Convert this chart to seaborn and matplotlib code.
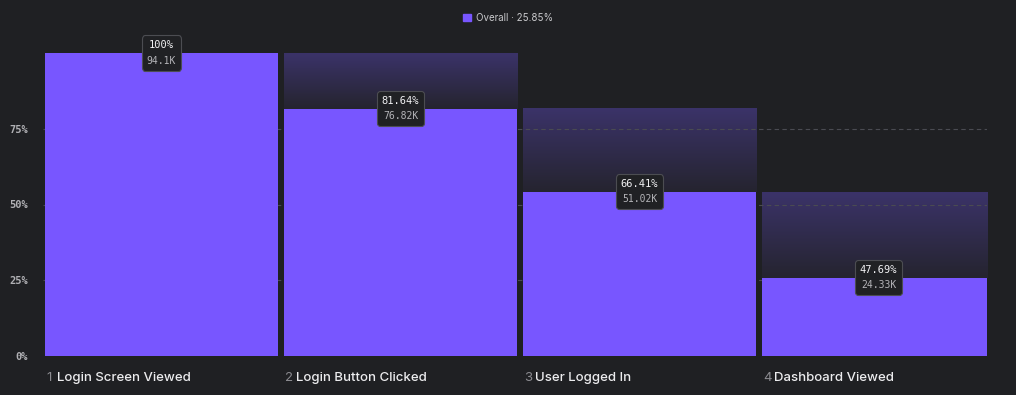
import numpy as np
import pandas as pd
import matplotlib.pyplot as plt
import seaborn as sns
from matplotlib.patches import Patch
from matplotlib.colors import LinearSegmentedColormap
from matplotlib.offsetbox import TextArea, VPacker, AnnotationBbox

# dados do funil
etapas = ['Login Screen Viewed', 'Login Button Clicked', 'User Logged In', 'Dashboard Viewed']
contagens = [94100, 76820, 51020, 24330]
rotulos_pct = ['100%', '81.64%', '66.41%', '47.69%']
rotulos_cont = ['94.1K', '76.82K', '51.02K', '24.33K']
rotulo_geral = 'Overall · 25.85%'
yticks = [0, 25, 50, 75]
ytick_labels = ['0%', '25%', '50%', '75%']

fundo = '#1f2023'
roxo = '#7856ff'

df = pd.DataFrame({'etapa': etapas, 'contagem': contagens})
df['geral'] = df['contagem'] / df['contagem'].iloc[0] * 100
df['anterior'] = df['geral'].shift(1)

sns.set_style('dark')
plt.rcParams['font.family'] = ['Inter', 'DejaVu Sans']

fig = plt.figure(figsize=(10.16, 3.95), dpi=100, facecolor=fundo)
ax = fig.add_axes([43 / 1016, 39 / 395, (987 - 43) / 1016, (356 - 53) / 395])
ax.set_facecolor(fundo)

largura = 0.975
sns.barplot(data=df, x='etapa', y='geral', width=largura, color=roxo,
            saturation=1, ax=ax, zorder=3, edgecolor='none', linewidth=0)

# barras "fantasma" com gradiente (altura da etapa anterior)
grad = np.linspace(1, 0, 256).reshape(-1, 1)
cmap_g = LinearSegmentedColormap.from_list('g', ['#25242f', '#3b3369'])
for i, row in df.iterrows():
    if pd.isna(row['anterior']):
        continue
    ax.imshow(grad, cmap=cmap_g, aspect='auto', zorder=1,
              extent=[i - largura / 2, i + largura / 2, row['geral'], row['anterior']])

ax.set_xlim(-0.496, 3.454)
ax.set_ylim(0, 100)

# grade
for yv in yticks[1:]:
    ax.axhline(yv, color='#4a4b52', lw=0.8, ls=(0, (4, 3)), zorder=2)

ax.set_yticks(yticks)
ax.set_yticklabels(ytick_labels, family='DejaVu Sans Mono', fontsize=7.5,
                   color='#b0b0b4', fontweight='bold')
ax.tick_params(axis='y', length=3, color='#55565c', pad=8)
ax.set_xticks([])
ax.set_xlabel('')
ax.set_ylabel('')
for s in ax.spines.values():
    s.set_visible(False)
ax.grid(False)

# rótulos das etapas
for i, nome in enumerate(etapas):
    x0 = i - largura / 2
    ax.annotate(str(i + 1), xy=(x0, 0), xycoords=('data', 'axes fraction'),
                xytext=(1, -16), textcoords='offset points', ha='left', va='center',
                fontsize=9.5, color='#8b8b90')
    ax.annotate(nome, xy=(x0, 0), xycoords=('data', 'axes fraction'),
                xytext=(8.5, -16), textcoords='offset points', ha='left', va='center',
                fontsize=9.5, color='#ececee', fontweight='medium')

# caixas de anotação
for i, row in df.iterrows():
    t1 = TextArea(rotulos_pct[i], textprops=dict(family='DejaVu Sans Mono',
                                                 fontsize=7.5, color='#f2f2f4'))
    t2 = TextArea(rotulos_cont[i], textprops=dict(family='DejaVu Sans Mono',
                                                  fontsize=7, color='#b4b4b8'))
    caixa = VPacker(children=[t1, t2], align='center', pad=0, sep=4)
    ab = AnnotationBbox(caixa, (i, row['geral']), frameon=True, box_alignment=(0.5, 0.5),
                        pad=0.35, annotation_clip=False, zorder=6,
                        bboxprops=dict(boxstyle='round,pad=0.35,rounding_size=0.25',
                                       fc='#202124', ec='#4c4d52', lw=0.8))
    ax.add_artist(ab)

# legenda
fig.legend(handles=[Patch(color=roxo, label=rotulo_geral)], loc='center',
           bbox_to_anchor=(0.5, 1 - 18 / 395), frameon=False, fontsize=7,
           labelcolor='#c9c9cc', handlelength=0.8, handleheight=0.8, handletextpad=0.5)

fig.savefig('out.png', dpi=100, facecolor=fundo)
